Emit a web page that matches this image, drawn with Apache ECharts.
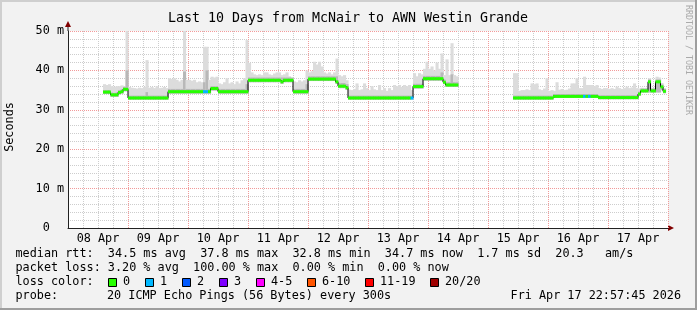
<!DOCTYPE html>
<html><head><meta charset="utf-8">
<script src="https://cdn.jsdelivr.net/npm/echarts@6/dist/echarts.min.js"></script>
<style>html,body{margin:0;padding:0;background:#f2f2f2}#c{width:697px;height:310px}</style>
</head><body><div id="c"></div>
<script>
// ---- DATA (one value per hour, hour 0 = 08 Apr 00:00) ----
const dayLabels = ['08 Apr','09 Apr','10 Apr','11 Apr','12 Apr','13 Apr','14 Apr','15 Apr','16 Apr','17 Apr'];
const yTicks = [0,10,20,30,40,50];

const median = [
/*08*/ null,null,null,null,null,null,null,null,null,null,null,null,null,null,34.5,34.5,34.5,33.8,33.8,33.8,34.4,34.6,35.2,35.2,
/*09*/ 33.0,33.0,33.0,33.0,33.0,33.0,33.0,33.0,33.0,33.0,33.0,33.0,33.0,33.0,33.0,33.0,34.6,34.6,34.6,34.6,34.6,34.6,34.6,34.6,
/*10*/ 34.6,34.6,34.6,34.6,34.6,34.6,34.6,34.6,34.6,35.4,35.4,35.4,34.6,34.6,34.6,34.6,34.6,34.6,34.6,34.6,34.6,34.6,34.6,34.6,
/*11*/ 37.5,37.5,37.5,37.5,37.5,37.5,37.5,37.5,37.5,37.5,37.5,37.5,37.5,37.1,37.5,37.5,37.5,37.5,34.6,34.6,34.6,34.6,34.6,34.6,
/*12*/ 37.8,37.8,37.8,37.8,37.8,37.8,37.8,37.8,37.8,37.8,37.8,37.1,36.0,36.0,36.0,35.6,33.0,33.0,33.0,33.0,33.0,33.0,33.0,33.0,
/*13*/ 33.0,33.0,33.0,33.0,33.0,33.0,33.0,33.0,33.0,33.0,33.0,33.0,33.0,33.0,33.0,33.0,33.0,33.0,35.9,35.9,35.9,35.9,37.9,37.9,
/*14*/ 37.9,37.9,37.9,37.9,37.9,37.9,37.0,36.3,36.3,36.3,36.3,36.3,null,null,null,null,null,null,null,null,null,null,null,null,
/*15*/ null,null,null,null,null,null,null,null,null,null,33.0,33.0,33.0,33.0,33.0,33.0,33.0,33.0,33.0,33.0,33.0,33.0,33.0,33.0,
/*16*/ 33.0,33.0,33.4,33.4,33.4,33.4,33.4,33.4,33.4,33.4,33.4,33.4,33.4,33.4,33.4,33.4,33.4,33.4,33.4,33.4,33.1,33.1,33.1,33.1,
/*17*/ 33.1,33.1,33.1,33.1,33.1,33.1,33.1,33.1,33.1,33.1,33.1,33.1,34.0,34.8,34.8,34.8,37.1,34.8,34.8,37.1,37.1,35.8,34.7,null
];
const smokeLo = [
/*08*/ null,null,null,null,null,null,null,null,null,null,null,null,null,null,34.0,34.0,34.0,33.3,33.3,33.3,33.9,34.1,34.7,34.7,
/*09*/ 32.6,32.6,32.6,32.6,32.6,32.6,32.6,32.6,32.6,32.6,32.6,32.6,32.6,32.6,32.6,32.6,34.1,34.1,34.1,34.1,34.1,34.1,34.1,34.1,
/*10*/ 34.1,34.1,34.1,34.1,34.1,34.1,34.1,34.1,34.1,34.9,34.9,34.9,34.1,34.1,34.1,34.1,34.1,34.1,34.1,34.1,34.1,34.1,34.1,34.1,
/*11*/ 37.0,37.0,37.0,37.0,37.0,37.0,37.0,37.0,37.0,37.0,37.0,37.0,37.0,36.6,37.0,37.0,37.0,37.0,34.1,34.1,34.1,34.1,34.1,34.1,
/*12*/ 37.3,37.3,37.3,37.3,37.3,37.3,37.3,37.3,37.3,37.3,37.3,36.6,35.5,35.5,35.5,35.1,32.6,32.6,32.6,32.6,32.6,32.6,32.6,32.6,
/*13*/ 32.6,32.6,32.6,32.6,32.6,32.6,32.6,32.6,32.6,32.6,32.6,32.6,32.6,32.6,32.6,32.6,32.6,32.6,35.4,35.4,35.4,35.4,37.4,37.4,
/*14*/ 37.4,37.4,37.4,37.4,37.4,37.4,36.5,35.8,35.8,35.8,35.8,35.8,null,null,null,null,null,null,null,null,null,null,null,null,
/*15*/ null,null,null,null,null,null,null,null,null,null,32.6,32.6,32.6,32.6,32.6,32.6,32.6,32.6,32.6,32.6,32.6,32.6,32.6,32.6,
/*16*/ 32.6,32.6,33.0,33.0,33.0,33.0,33.0,33.0,33.0,33.0,33.0,33.0,33.0,33.0,33.0,33.0,33.0,33.0,33.0,33.0,32.7,32.7,32.7,32.7,
/*17*/ 32.7,32.7,32.7,32.7,32.7,32.7,32.7,32.7,32.7,32.7,32.7,32.7,33.6,34.4,34.4,34.4,34.4,34.4,34.4,34.4,34.4,35.0,34.2,null
];
const smokeMid = [
/*08*/ null,null,null,null,null,null,null,null,null,null,null,null,null,null,35.0,35.0,35.0,34.4,34.3,34.4,35.0,35.2,35.8,40.0,
/*09*/ 33.6,33.6,33.6,33.6,33.6,33.6,33.6,34.5,33.6,33.6,33.6,33.6,33.6,33.6,33.6,33.6,35.3,35.3,35.3,35.3,35.3,35.3,39.7,35.3,
/*10*/ 35.3,35.3,35.3,35.3,35.3,35.3,37.0,40.0,35.3,36.0,36.0,36.0,35.3,35.3,35.3,35.3,35.3,35.3,35.3,35.3,35.3,35.3,35.3,36.5,
/*11*/ 38.2,38.2,38.2,38.2,38.2,38.2,38.2,38.2,38.2,38.2,38.2,38.2,38.2,38.2,38.2,38.2,38.2,38.2,35.3,35.3,35.3,35.3,35.3,36.5,
/*12*/ 38.5,38.5,38.5,38.5,38.5,38.5,38.5,38.5,38.5,38.5,38.5,38.5,36.8,36.8,36.8,36.5,33.6,33.6,33.6,33.6,33.6,33.6,33.6,33.6,
/*13*/ 33.6,33.6,33.6,33.6,33.6,33.6,33.6,33.6,33.6,33.6,33.6,33.6,33.6,33.6,33.6,33.6,33.6,33.6,36.6,36.6,36.6,36.6,38.6,38.6,
/*14*/ 38.6,38.6,38.6,38.6,38.6,39.5,37.7,37.0,37.0,39.0,37.0,37.0,null,null,null,null,null,null,null,null,null,null,null,null,
/*15*/ null,null,null,null,null,null,null,null,null,null,33.6,33.6,33.6,33.6,33.6,33.6,33.6,33.6,33.6,33.6,33.6,33.6,33.6,33.6,
/*16*/ 33.6,33.6,34.0,34.0,34.0,34.0,34.0,34.0,34.0,34.0,34.0,34.0,34.0,34.0,34.0,34.0,34.0,34.0,34.0,34.0,33.7,33.7,33.7,33.7,
/*17*/ 33.7,33.7,33.7,33.7,33.7,33.7,33.7,33.7,33.7,33.7,33.7,33.7,34.6,35.4,35.4,35.4,37.7,35.4,35.4,37.7,37.7,36.4,35.3,null
];
const smokeHi = [
/*08*/ null,null,null,null,null,null,null,null,null,null,null,null,null,null,36.5,36.3,36.5,36.0,35.8,36.0,36.0,36.2,36.0,50.0,
/*09*/ 35.8,35.6,35.5,35.4,35.6,35.5,35.8,42.6,35.6,35.8,35.5,36.0,35.5,35.6,35.8,35.5,38.0,37.8,38.0,37.6,37.2,37.6,50.0,37.6,
/*10*/ 37.6,37.4,37.6,37.0,37.2,37.0,46.0,46.0,37.6,38.4,38.2,38.4,36.7,36.5,37.0,38.0,36.7,37.0,36.5,37.2,36.7,37.5,38.0,47.7,
/*11*/ 41.9,39.5,39.0,38.8,39.0,38.8,39.5,39.5,39.0,38.8,39.2,39.5,39.5,38.8,39.0,39.5,38.5,38.0,37.2,37.0,37.5,37.2,37.5,40.0,
/*12*/ 39.5,39.8,42.2,41.5,42.2,41.0,39.5,39.2,39.5,39.0,39.5,43.0,38.8,38.5,38.8,37.5,35.1,35.0,35.3,36.7,35.0,35.2,36.7,35.5,
/*13*/ 35.0,36.0,35.2,35.0,36.3,35.0,35.5,34.8,35.5,35.0,36.3,36.0,36.3,35.8,36.3,36.0,36.3,35.0,39.3,38.5,39.3,39.0,40.4,42.2,
/*14*/ 40.4,41.0,40.0,42.0,40.4,44.3,38.8,42.8,38.8,46.9,38.8,38.5,null,null,null,null,null,null,null,null,null,null,null,null,
/*15*/ null,null,null,null,null,null,null,null,null,null,39.3,39.3,34.8,35.0,35.0,35.2,35.0,36.7,36.5,36.7,35.2,35.0,35.4,38.0,
/*16*/ 34.8,35.0,34.8,37.0,35.1,35.3,35.0,35.1,35.4,36.7,36.7,38.0,35.5,35.5,38.4,36.3,36.3,36.3,36.0,36.3,35.5,35.3,35.5,35.5,
/*17*/ 35.3,35.5,35.3,35.9,35.5,35.3,35.5,35.9,35.5,35.7,36.7,35.5,35.4,35.6,35.4,35.6,38.0,35.4,35.6,38.4,38.2,36.8,35.5,null
];
// hours with lost pings: [hour, lost pings]
const lossHours = [[54,1],[55,1],[137,1],[206,1],[208,1]];
const lossLabels = ['0','1','2','3','4-5','6-10','11-19','20/20'];
const lossColors = ['#26ff00','#00b8ff','#0059ff','#7e00ff','#ff00ff','#ff5500','#ff0000','#a00000'];

const titleText = 'Last 10 Days from McNair to AWN Westin Grande';
const statLines = [
  'median rtt:  34.5 ms avg  37.8 ms max  32.8 ms min  34.7 ms now  1.7 ms sd  20.3   am/s',
  'packet loss: 3.20 % avg  100.00 % max  0.00 % min  0.00 % now'
];
const probeLabel = 'probe:';
const probeText = '20 ICMP Echo Pings (56 Bytes) every 300s';
const dateText = 'Fri Apr 17 22:57:45 2026';

// ---- build ----
const FONT = '"DejaVu Sans Mono", monospace';
const GRID_C = '#cdcdcd';
const MGRID_C = '#f29a9a';
const lossMap = {};
lossHours.forEach(p => { lossMap[p[0]] = p[1]; });

const smokeData = [], greenData = [], lineData = [];
for (let h = 0; h < median.length; h++) {
  if (smokeHi[h] != null) smokeData.push([h, smokeLo[h], smokeMid[h], smokeHi[h]]);
  if (median[h] != null) greenData.push([h, median[h], lossMap[h] || 0]);
  lineData.push([h, median[h] == null ? '-' : median[h]]);
}

const graphics = [];
graphics.push({type:'rect', shape:{x:0,y:0,width:697,height:2}, style:{fill:'#cfcfcf'}});
graphics.push({type:'rect', shape:{x:0,y:0,width:2,height:310}, style:{fill:'#cfcfcf'}});
graphics.push({type:'rect', shape:{x:0,y:308,width:697,height:2}, style:{fill:'#9e9e9e'}});
graphics.push({type:'rect', shape:{x:695,y:0,width:2,height:310}, style:{fill:'#9e9e9e'}});
graphics.push({type:'text', x:348, y:19, style:{text:titleText, font:'13.3px '+FONT, fill:'#000', align:'center', verticalAlign:'middle'}});
graphics.push({type:'text', x:10, y:127, rotation:Math.PI/2, style:{text:'Seconds', font:'11.8px '+FONT, fill:'#000', align:'center', verticalAlign:'middle'}});
graphics.push({type:'text', x:688, y:60, rotation:-Math.PI/2, style:{text:'RRDTOOL / TOBI OETIKER', font:'8.3px '+FONT, fill:'#aaaaaa', align:'center', verticalAlign:'middle'}});
graphics.push({type:'line', shape:{x1:68,y1:31,x2:68,y2:26}, style:{stroke:'#212121', lineWidth:1}});
graphics.push({type:'polygon', shape:{points:[[65,27],[71,27],[68,21]]}, style:{fill:'#800000'}});
graphics.push({type:'polygon', shape:{points:[[668,225],[668,231],[674,228]]}, style:{fill:'#800000'}});
graphics.push({type:'text', x:15.5, y:254, style:{text:statLines[0], font:'11.8px '+FONT, fill:'#000', verticalAlign:'middle'}});
graphics.push({type:'text', x:15.5, y:268, style:{text:statLines[1], font:'11.8px '+FONT, fill:'#000', verticalAlign:'middle'}});
graphics.push({type:'text', x:15.5, y:282, style:{text:'loss color:', font:'11.8px '+FONT, fill:'#000', verticalAlign:'middle'}});
graphics.push({type:'text', x:15.5, y:296, style:{text:probeLabel, font:'11.8px '+FONT, fill:'#000', verticalAlign:'middle'}});
graphics.push({type:'text', x:107, y:296, style:{text:probeText, font:'11.8px '+FONT, fill:'#000', verticalAlign:'middle'}});
graphics.push({type:'text', x:681, y:296, style:{text:dateText, font:'11.8px '+FONT, fill:'#000', align:'right', verticalAlign:'middle'}});
const boxX = [108,145,182,219,256,307,365,430];
lossLabels.forEach((lab, i) => {
  graphics.push({type:'rect', shape:{x:boxX[i]+0.5, y:278.5, width:8, height:8}, style:{fill:lossColors[i], stroke:'#000', lineWidth:1}});
  graphics.push({type:'text', x:boxX[i]+15, y:282, style:{text:lab, font:'11.8px '+FONT, fill:'#000', verticalAlign:'middle'}});
});

const option = {
  backgroundColor:'#f2f2f2',
  animation:false,
  grid:{left:68, top:31, width:600, height:197, show:true, backgroundColor:'#ffffff', borderWidth:0},
  xAxis:[{
    type:'value', min:0, max:240, interval:24,
    axisLine:{show:true, onZero:false, lineStyle:{color:'#212121', width:1}},
    axisTick:{show:false}, axisLabel:{show:false},
    splitLine:{show:true, lineStyle:{color:MGRID_C, type:[1,1], width:1}},
    minorTick:{show:false, splitNumber:4},
    minorSplitLine:{show:true, lineStyle:{color:GRID_C, type:[1,1], width:1}}
  },{
    type:'value', min:0, max:240, interval:12, position:'bottom',
    axisLine:{show:false}, axisTick:{show:false}, splitLine:{show:false},
    axisLabel:{show:true, margin:5, fontFamily:FONT, fontSize:11.8, color:'#000',
      formatter:v => (v % 24 === 12) ? dayLabels[(v - 12) / 24] : ''}
  }],
  yAxis:{
    type:'value', min:yTicks[0], max:yTicks[yTicks.length-1], interval:10,
    axisLine:{show:true, lineStyle:{color:'#212121', width:1}},
    axisTick:{show:false},
    axisLabel:{margin:4, fontFamily:FONT, fontSize:11.8, color:'#000',
      formatter:v => v === 0 ? '0  ' : v + ' m'},
    splitLine:{show:true, lineStyle:{color:MGRID_C, type:[1,1], width:1}},
    minorTick:{show:false, splitNumber:5},
    minorSplitLine:{show:true, lineStyle:{color:GRID_C, type:[1,1], width:1}}
  },
  series:[{
    type:'custom', z:2, data:smokeData, encode:{x:0, y:[1,2,3]},
    renderItem:(params, api) => {
      const h = api.value(0);
      const a = api.coord([h, api.value(1)]);
      const m = api.coord([h + 1, api.value(2)]);
      const b = api.coord([h + 1, api.value(3)]);
      const w = b[0] - a[0] + 0.6;
      return {type:'group', children:[
        {type:'rect', shape:{x:a[0], y:b[1], width:w, height:a[1]-b[1]}, style:{fill:'#dcdcdc'}},
        {type:'rect', shape:{x:a[0], y:m[1], width:w, height:a[1]-m[1]}, style:{fill:'#b8b8b8'}}
      ]};
    }
  },{
    type:'line', z:3, data:lineData, step:'end', showSymbol:false, symbol:'none',
    lineStyle:{color:'#000', width:1}, connectNulls:false
  },{
    type:'custom', z:4, data:greenData, encode:{x:0, y:1},
    renderItem:(params, api) => {
      const h = api.value(0);
      const a = api.coord([h, api.value(1)]);
      const b = api.coord([h + 1, api.value(1)]);
      return {type:'rect', shape:{x:a[0], y:a[1]-1.5, width:b[0]-a[0]+0.4, height:3}, style:{fill:lossColors[api.value(2)]}};
    }
  }],
  graphic:graphics
};
const chart = echarts.init(document.getElementById('c'), null, {renderer:'canvas'});
chart.setOption(option);
</script></body></html>
